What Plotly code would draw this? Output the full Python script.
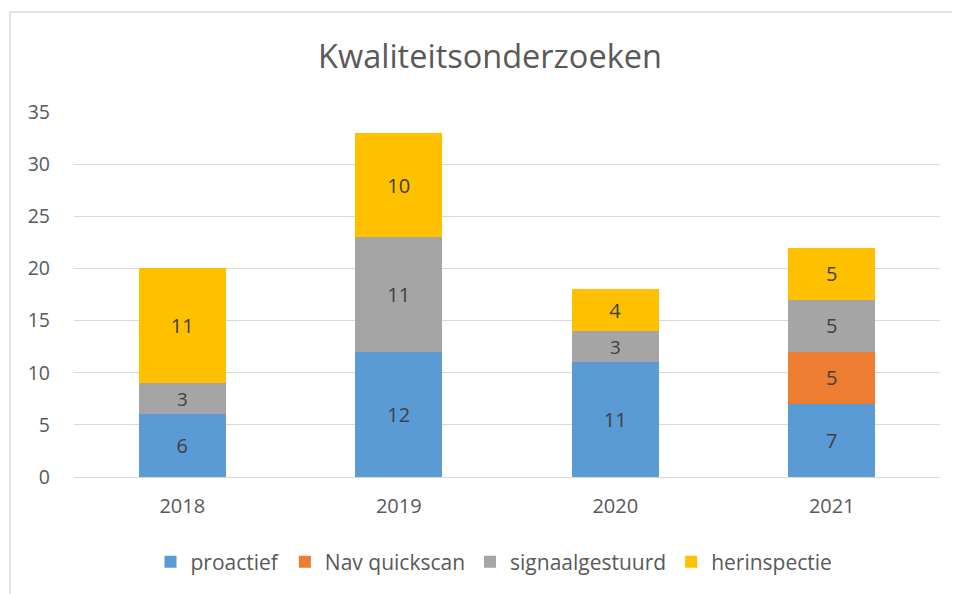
import plotly.graph_objects as go

years = ["2018", "2019", "2020", "2021"]
proactief = [6, 12, 11, 7]
nav_quickscan = [None, None, None, 5]
signaalgestuurd = [3, 11, 3, 5]
herinspectie = [11, 10, 4, 5]

series = [
    ("proactief", proactief, "#5B9BD5"),
    ("Nav quickscan", nav_quickscan, "#ED7D31"),
    ("signaalgestuurd", signaalgestuurd, "#A5A5A5"),
    ("herinspectie", herinspectie, "#FFC000"),
]

FONT = "Open Sans"
# page is offset by the 8px body margin -> figure coordinates = page - 8
W, H = 952, 586
L, R_EDGE, T, B_EDGE = 66, 932, 104, 469
PW, PH = R_EDGE - L, B_EDGE - T

def px(x):
    return (x - 8 - L) / PW

def py(y):
    return (B_EDGE - (y - 8)) / PH

fig = go.Figure()
for name, vals, col in series:
    fig.add_trace(go.Bar(
        x=years, y=vals, name=name, marker=dict(color=col, line=dict(width=0)),
        text=[str(v) if v else "" for v in vals], textposition="inside",
        insidetextanchor="middle", textangle=0,
        textfont=dict(family=FONT, size=20, color="#404040"),
    ))

fig.update_layout(
    barmode="stack", bargap=0.6,
    width=W, height=H,
    margin=dict(l=L, r=W - R_EDGE, t=T, b=H - B_EDGE),
    paper_bgcolor="white", plot_bgcolor="white",
    title=dict(text="Kwaliteitsonderzoeken", x=(490 - 8) / W, xref="container",
               y=1 - (57 - 8) / H, yref="container",
               xanchor="center", yanchor="middle",
               font=dict(family=FONT, size=32.5, color="#595959")),
    font=dict(family=FONT, color="#595959"),
    legend=dict(orientation="h", x=px(494), xanchor="center", y=py(562), yanchor="middle",
                font=dict(family=FONT, size=21, color="#595959"), traceorder="normal"),
    showlegend=True,
)
fig.update_yaxes(range=[0, 35], dtick=5, showgrid=True, gridcolor="#D9D9D9", gridwidth=1.3,
                 zeroline=True, zerolinecolor="#D9D9D9", zerolinewidth=1.3,
                 tickfont=dict(family=FONT, size=19.5, color="#595959"), ticklabelstandoff=23,
                 showline=False)
fig.update_xaxes(tickfont=dict(family=FONT, size=20, color="#595959"), ticklabelstandoff=15,
                 showline=False)
fig.add_shape(type="line", xref="paper", yref="paper",
              x0=px(10), x1=px(10), y0=py(12), y1=py(620),
              line=dict(color="#D9D9D9", width=1.5))
fig.add_shape(type="line", xref="paper", yref="paper",
              x0=px(10), x1=px(990), y0=py(12), y1=py(12),
              line=dict(color="#D9D9D9", width=1.5))
fig.write_html("out.html")
